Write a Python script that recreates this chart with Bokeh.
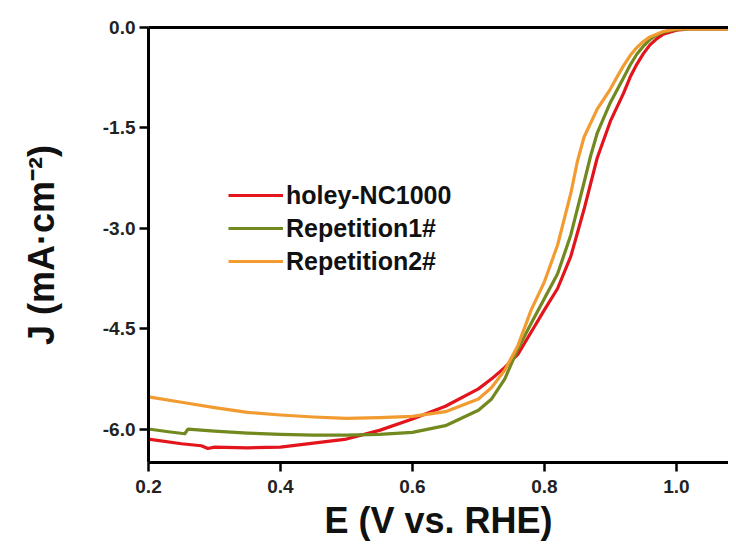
from bokeh.plotting import figure
from bokeh.models import Range1d, LinearAxis, Legend, LegendItem
from bokeh.embed import file_html
from bokeh.resources import INLINE

# ---- data ----
red_E = [0.20, 0.25, 0.28, 0.29, 0.30, 0.35, 0.40, 0.45, 0.50, 0.55, 0.60, 0.65,
         0.70, 0.72, 0.74, 0.76, 0.78, 0.80, 0.82, 0.84, 0.86, 0.88, 0.90,
         0.92, 0.93, 0.94, 0.95, 0.96, 0.97, 0.98, 1.00, 1.02, 1.06, 1.10]
red_J = [-6.15, -6.22, -6.25, -6.29, -6.27, -6.28, -6.27, -6.21, -6.15, -6.02, -5.85, -5.66,
         -5.40, -5.25, -5.08, -4.88, -4.55, -4.22, -3.90, -3.42, -2.72, -1.95, -1.40,
         -0.98, -0.74, -0.55, -0.39, -0.26, -0.17, -0.10, -0.04, -0.02, -0.02, -0.02]

green_E = [0.20, 0.23, 0.255, 0.26, 0.30, 0.35, 0.40, 0.45, 0.50, 0.55, 0.60, 0.65,
           0.70, 0.72, 0.74, 0.76, 0.78, 0.80, 0.82, 0.84, 0.86, 0.87, 0.88, 0.90,
           0.92, 0.93, 0.94, 0.95, 0.96, 0.97, 0.98, 1.00, 1.02, 1.06, 1.10]
green_J = [-6.00, -6.04, -6.07, -6.00, -6.03, -6.06, -6.08, -6.09, -6.09, -6.08, -6.05, -5.95,
           -5.72, -5.55, -5.25, -4.80, -4.42, -4.05, -3.68, -3.10, -2.32, -1.92, -1.58, -1.12,
           -0.75, -0.56, -0.40, -0.28, -0.18, -0.11, -0.07, -0.03, -0.02, -0.02, -0.02]

orange_E = [0.20, 0.25, 0.30, 0.35, 0.40, 0.45, 0.50, 0.55, 0.60, 0.65, 0.70, 0.72,
            0.74, 0.76, 0.78, 0.80, 0.82, 0.84, 0.85, 0.86, 0.88, 0.90, 0.91, 0.92, 0.93,
            0.94, 0.95, 0.96, 0.98, 1.00, 1.02, 1.06, 1.10]
orange_J = [-5.52, -5.60, -5.68, -5.75, -5.79, -5.82, -5.84, -5.83, -5.81, -5.74, -5.55, -5.38,
            -5.12, -4.75, -4.22, -3.80, -3.25, -2.48, -2.00, -1.64, -1.22, -0.92, -0.74, -0.57, -0.42,
            -0.30, -0.21, -0.14, -0.06, -0.02, -0.02, -0.02, -0.02]

series_names = ["holey-NC1000", "Repetition1#", "Repetition2#"]
series_colors = ["#e3141b", "#72891f", "#f29b30"]

x_ticks = [0.2, 0.4, 0.6, 0.8, 1.0]
y_ticks = [0.0, -1.5, -3.0, -4.5, -6.0]

FONT = "Liberation Sans"

p = figure(width=728, height=548, output_backend="svg", toolbar_location=None,
           x_range=Range1d(0.2, 1.079), y_range=Range1d(-6.5, 0.0),
           min_border_left=148, min_border_right=0, min_border_top=27,
           min_border_bottom=86, background_fill_color="white",
           border_fill_color="white")
p.outline_line_color = None
p.grid.grid_line_color = None

renderers = []
for E, J, c in zip([red_E, green_E, orange_E], [red_J, green_J, orange_J], series_colors):
    r = p.line(E, J, line_color=c, line_width=3.2, line_join="round")
    renderers.append(r)

for ax in [p.xaxis[0], p.yaxis[0]]:
    ax.axis_line_width = 3
    ax.axis_line_color = "black"
    ax.major_tick_line_width = 2.5
    ax.minor_tick_line_width = 2.5
    ax.major_tick_in = 0
    ax.major_tick_out = 9
    ax.minor_tick_in = 0
    ax.minor_tick_out = 6
    ax.major_label_text_font = FONT
    ax.major_label_text_font_style = "bold"
    ax.major_label_text_font_size = "19px"
    ax.major_label_text_color = "#222222"
    ax.axis_label_text_font = FONT
    ax.axis_label_text_font_style = "bold"
    ax.axis_label_text_font_size = "36px"
    ax.axis_label_text_color = "#111111"

p.xaxis[0].ticker = x_ticks
p.xaxis[0].ticker.num_minor_ticks = 2
p.xaxis[0].major_label_overrides = {v: f"{v:.1f}" for v in x_ticks}
p.xaxis[0].major_label_standoff = 8
p.xaxis[0].axis_label = "E (V vs. RHE)"
p.xaxis[0].axis_label_standoff = 4

p.yaxis[0].ticker = y_ticks
p.yaxis[0].ticker.num_minor_ticks = 2
p.yaxis[0].major_label_overrides = {v: f"{v:.1f}" for v in y_ticks}
p.yaxis[0].major_label_standoff = 4
p.yaxis[0].axis_label = "J (mA\u00b7cm\u207b\u00b2)"
p.yaxis[0].axis_label_standoff = 38

top = LinearAxis(axis_line_width=3, axis_line_color="black",
                 major_tick_line_color=None, minor_tick_line_color=None,
                 major_label_text_font_size="0px", major_label_text_color=None)
p.add_layout(top, "above")

legend = Legend(items=[LegendItem(label=n, renderers=[r]) for n, r in zip(series_names, renderers)],
                location=(80, 186), padding=0, margin=0, spacing=3,
                glyph_width=55, glyph_height=30, label_standoff=3,
                label_text_font=FONT, label_text_font_style="bold",
                label_text_font_size="25px", label_text_color="#111111",
                border_line_color=None, background_fill_alpha=0)
p.add_layout(legend)

open("out.html", "w").write(file_html(p, INLINE))
